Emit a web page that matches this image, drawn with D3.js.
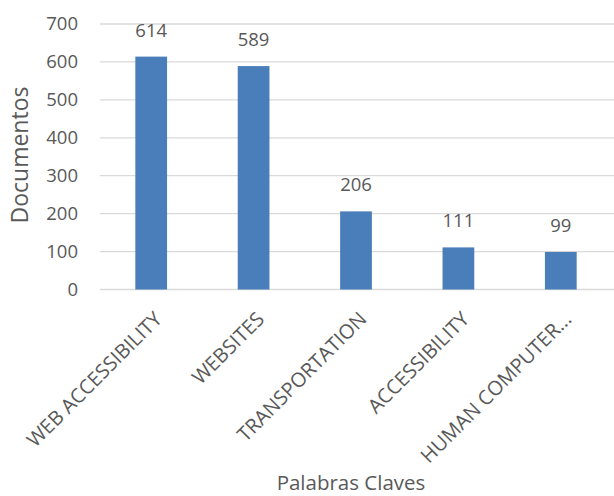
<!DOCTYPE html>
<html><head><meta charset="utf-8">
<script src="https://cdn.jsdelivr.net/npm/d3@7"></script>
<style>body{margin:0;background:#fff}svg{display:block}</style>
</head><body>
<svg id="c" width="614" height="496"></svg>
<script>
const categories = ["WEB ACCESSIBILITY","WEBSITES","TRANSPORTATION","ACCESSIBILITY","HUMAN COMPUTER..."];
const values = [614, 589, 206, 111, 99];
const yTicks = [0,100,200,300,400,500,600,700];

const svg = d3.select("#c");
const font = "'Open Sans', sans-serif";
const grey = "#595959";
const x = d3.scaleBand().domain(categories).range([100, 612]).paddingInner(0.69).paddingOuter(0.345);
const y = d3.scaleLinear().domain([0,700]).range([289.5, 24]);

// gridlines
svg.append("g").selectAll("line").data(yTicks).join("line")
  .attr("x1",100).attr("x2",614).attr("y1",d=>y(d)).attr("y2",d=>y(d))
  .attr("stroke","#d9d9d9").attr("stroke-width",1.3);

// y axis
const ya = svg.append("g").attr("transform","translate(100,0)")
  .call(d3.axisLeft(y).tickValues(yTicks).tickSize(0).tickPadding(22));
ya.select(".domain").remove();
ya.selectAll("text").attr("font-family",font).attr("font-size",18.5).attr("fill",grey);

// bars
svg.append("g").selectAll("rect").data(values).join("rect")
  .attr("x",(d,i)=>x(categories[i])).attr("width",x.bandwidth())
  .attr("y",d=>y(d)).attr("height",d=>y(0)-y(d)).attr("fill","#4a7ebb");

// value labels
svg.append("g").selectAll("text").data(values).join("text")
  .attr("x",(d,i)=>x(categories[i])+x.bandwidth()/2).attr("y",d=>y(d)-20)
  .attr("text-anchor","middle").attr("font-family",font).attr("font-size",18.5).attr("fill",grey)
  .text(d=>d);

// x axis
const xa = svg.append("g").attr("transform","translate(0,289.5)")
  .call(d3.axisBottom(x).tickSize(0).tickPadding(0));
xa.select(".domain").remove();
xa.selectAll("text").attr("font-family",font).attr("font-size",20).attr("fill",grey)
  .attr("text-anchor","end").attr("dy","0.35em")
  .attr("transform","translate(7,26) rotate(-45)");

// axis titles
svg.append("text").attr("transform","translate(28,155) rotate(-90)")
  .attr("text-anchor","middle").attr("font-family",font).attr("font-size",23).attr("fill",grey)
  .text("Documentos");
svg.append("text").attr("x",351).attr("y",490)
  .attr("text-anchor","middle").attr("font-family",font).attr("font-size",20.5).attr("fill",grey)
  .text("Palabras Claves");
</script>
</body></html>
